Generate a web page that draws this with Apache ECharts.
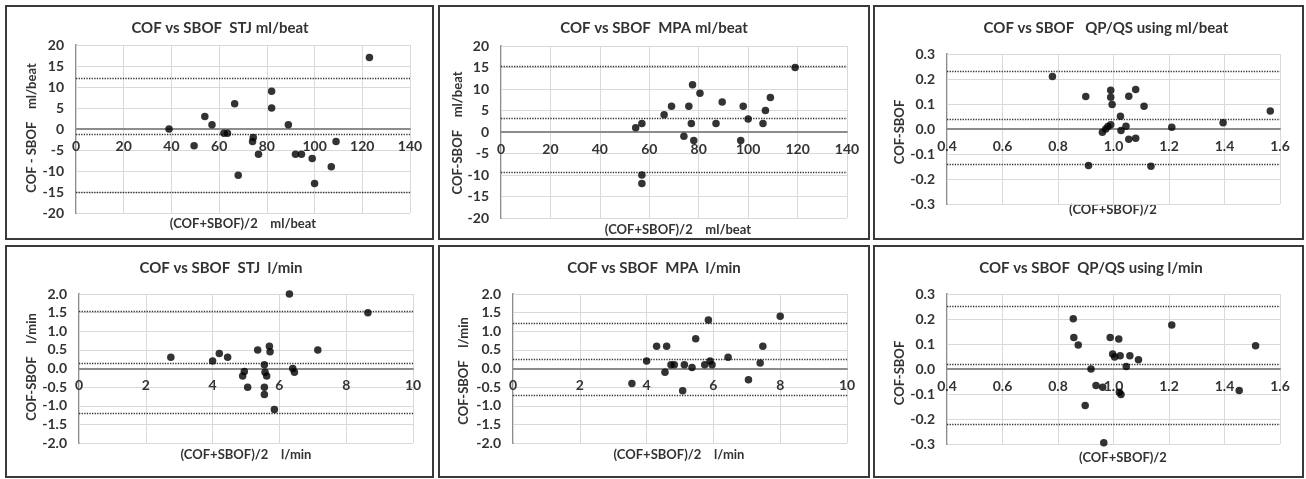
<!DOCTYPE html>
<html>
<head>
<meta charset="utf-8">
<script src="https://cdn.jsdelivr.net/npm/echarts@6/dist/echarts.min.js"></script>
<style>
html,body{margin:0;padding:0;background:#fff;}
#c{width:1306px;height:479px;}
</style>
</head>
<body>
<div id="c"></div>
<script>
// ---------------- DATA ----------------
// Panel 1: COF vs SBOF STJ ml/beat
const stjMlX = [39, 49.5, 54, 57, 62, 63.5, 66.5, 68, 74.3, 74, 76.5, 82, 82, 89, 92, 94.5, 99, 100, 107, 109, 123];
const stjMlY = [0, -4, 3, 1, -1, -1, 6, -11, -2, -3, -6, 9, 5, 1, -6, -6, -7, -13, -9, -3, 17];
const stjMlLimits = [12.2, -1.3, -15.0];

// Panel 2: COF vs SBOF MPA ml/beat
const mpaMlX = [54.5, 57, 57, 57, 66, 69, 74, 76, 77, 77.5, 78, 80.5, 87, 89.5, 97, 98, 100, 106, 107, 109, 119];
const mpaMlY = [1, 2, -10, -12, 4, 6, -1, 6, 2, 11, -2, 9, 2, 7, -2, 6, 3, 2, 5, 8, 15];
const mpaMlLimits = [15.2, 3.1, -9.3];

// Panel 3: COF vs SBOF QP/QS using ml/beat
const qpMlX = [0.78, 0.90, 0.91, 0.96, 0.972, 0.98, 0.99, 0.99, 0.99, 0.995, 1.025, 1.027, 1.045, 1.055, 1.055, 1.08, 1.08, 1.11, 1.135, 1.21, 1.395, 1.565];
const qpMlY = [0.21, 0.13, -0.146, -0.013, 0, 0.01, 0.017, 0.155, 0.127, 0.098, 0.051, -0.006, 0.011, 0.131, -0.041, 0.158, -0.037, 0.091, -0.149, 0.007, 0.025, 0.072];
const qpMlLimits = [0.229, 0.043, -0.143];

// Panel 4: COF vs SBOF STJ l/min
const stjLX = [2.75, 4.0, 4.2, 4.45, 4.9, 4.95, 5.05, 5.35, 5.55, 5.57, 5.62, 5.55, 5.55, 5.7, 5.72, 5.85, 6.3, 6.4, 6.45, 7.15, 8.65];
const stjLY = [0.3, 0.2, 0.4, 0.3, -0.2, -0.08, -0.5, 0.5, 0.1, -0.1, -0.2, -0.5, -0.7, 0.6, 0.45, -1.1, 2.0, 0, -0.1, 0.5, 1.5];
const stjLLimits = [1.53, 0.15, -1.2];

// Panel 5: COF vs SBOF MPA l/min
const mpaLX = [3.56, 4.0, 4.3, 4.6, 4.55, 4.73, 4.83, 5.08, 5.13, 5.36, 5.47, 5.74, 5.85, 5.9, 5.96, 6.44, 7.05, 7.4, 7.48, 8.0];
const mpaLY = [-0.4, 0.2, 0.6, 0.6, -0.1, 0.1, 0.1, -0.6, 0.1, 0.03, 0.8, 0.1, 1.3, 0.2, 0.1, 0.3, -0.3, 0.15, 0.6, 1.4];
const mpaLLimits = [1.22, 0.26, -0.72];

// Panel 6: COF vs SBOF QP/QS using l/min
const qpLX = [0.855, 0.857, 0.873, 0.898, 0.919, 0.937, 0.961, 0.965, 0.988, 0.997, 1.004, 1.019, 1.021, 1.024, 1.027, 1.046, 1.059, 1.09, 1.21, 1.453, 1.512];
const qpLY = [0.201, 0.126, 0.096, -0.146, 0, -0.066, -0.073, -0.295, 0.126, 0.06, 0.048, 0.12, -0.093, 0.053, -0.102, 0.01, 0.053, 0.037, 0.176, -0.086, 0.093];
const qpLLimits = [0.252, 0.017, -0.217];

const titles = [
  'COF vs SBOF  STJ ml/beat',
  'COF vs SBOF  MPA ml/beat',
  'COF vs SBOF   QP/QS using ml/beat',
  'COF vs SBOF  STJ  l/min',
  'COF vs SBOF  MPA  l/min',
  'COF vs SBOF  QP/QS using l/min'
];
const xNames = ['(COF+SBOF)/2    ml/beat', '(COF+SBOF)/2    ml/beat', '(COF+SBOF)/2',
                '(COF+SBOF)/2    l/min', '(COF+SBOF)/2    l/min', '(COF+SBOF)/2'];
const yNames = ['COF - SBOF    ml/beat', 'COF-SBOF    ml/beat', 'COF-SBOF',
                'COF-SBOF    l/min', 'COF-SBOF    l/min', 'COF-SBOF'];

// axis ranges [min, max, interval, decimals]
const xRanges = [[0,140,20,0],[0,140,20,0],[0.4,1.6,0.2,1],[0,10,2,0],[0,10,2,0],[0.4,1.6,0.2,1]];
const yRanges = [[-20,20,5,0],[-20,20,5,0],[-0.3,0.3,0.1,1],[-2,2,0.5,1],[-2,2,0.5,1],[-0.3,0.3,0.1,1]];

const xs = [stjMlX, mpaMlX, qpMlX, stjLX, mpaLX, qpLX];
const ys = [stjMlY, mpaMlY, qpMlY, stjLY, mpaLY, qpLY];
const limits = [stjMlLimits, mpaMlLimits, qpMlLimits, stjLLimits, mpaLLimits, qpLLimits];

// ---------------- LAYOUT ----------------
const FONT = 'Lato';
const TXT = '#333333';
const grids = [
  {left: 76, top: 45, width: 334, height: 168},
  {left: 501, top: 46, width: 346, height: 172},
  {left: 947, top: 54, width: 333, height: 150},
  {left: 79, top: 294, width: 334, height: 149},
  {left: 513, top: 294, width: 334, height: 149},
  {left: 947, top: 294, width: 333, height: 150}
];
const boxes = [
  [6, 6, 427, 233], [439, 6, 430, 233], [874, 6, 429, 233],
  [6, 246, 427, 231], [439, 246, 430, 231], [874, 246, 429, 231]
];
const titlePos = [[220,28],[654,28],[1106,28],[221,268],[654,268],[1091,268]];
const xNamePos = [[243,224],[678,230],[1113,210],[246,455],[679,455],[1123,458]];
const yNamePos = [[32,128],[458,133],[900,132],[32,367],[464,371],[900,373]];

const option = {
  backgroundColor: '#fff',
  animation: false,
  grid: [], xAxis: [], yAxis: [], series: [], graphic: []
};

for (let i = 0; i < 6; i++) {
  option.grid.push(Object.assign({containLabel: false}, grids[i]));
  const xr = xRanges[i], yr = yRanges[i];
  // main x axis: line on zero + vertical grid lines
  option.xAxis.push({
    type: 'value', gridIndex: i, min: xr[0], max: xr[1], interval: xr[2],
    axisLine: {show: true, onZero: true, lineStyle: {color: '#8c8c8c', width: 2}},
    axisTick: {show: false},
    axisLabel: {show: false},
    splitLine: {show: true, lineStyle: {color: '#d9d9d9', width: 1}},
    z: 3
  });
  // label-only x axis placed at the y = 0 level
  const zeroOffset = -grids[i].height * (0 - yr[0]) / (yr[1] - yr[0]);
  option.xAxis.push({
    type: 'value', gridIndex: i, position: 'bottom', offset: zeroOffset,
    min: xr[0], max: xr[1], interval: xr[2],
    axisLine: {show: false}, axisTick: {show: false}, splitLine: {show: false},
    axisLabel: {
      show: true, color: TXT, fontFamily: FONT, fontWeight: 'bold', fontSize: 14, margin: 10,
      showMinLabel: true, showMaxLabel: true,
      formatter: (v) => Number(v).toFixed(xr[3])
    },
    z: 4
  });
  option.yAxis.push({
    type: 'value', gridIndex: i, min: yr[0], max: yr[1], interval: yr[2],
    axisLine: {show: true, onZero: false, lineStyle: {color: '#8c8c8c', width: 2}},
    axisTick: {show: false},
    axisLabel: {
      show: true, color: TXT, fontFamily: FONT, fontWeight: 'bold', fontSize: 14, margin: 12,
      formatter: (v) => Number(v).toFixed(yr[3])
    },
    splitLine: {show: true, lineStyle: {color: '#d9d9d9', width: 1}}
  });
  const data = xs[i].map((x, k) => [x, ys[i][k]]);
  option.series.push({
    type: 'scatter', xAxisIndex: 2 * i, yAxisIndex: i,
    data: data, symbol: 'circle', symbolSize: 7.5,
    itemStyle: {color: '#000'},
    z: 5,
    markLine: {
      silent: true, symbol: 'none', label: {show: false},
      lineStyle: {color: '#333', type: 'dotted', width: 1.3},
      data: limits[i].map(v => ({yAxis: v}))
    }
  });
  // panel border
  option.graphic.push({
    type: 'rect', shape: {x: boxes[i][0], y: boxes[i][1], width: boxes[i][2], height: boxes[i][3]},
    style: {fill: null, stroke: '#3a3a3a', lineWidth: 2}, z: 0, silent: true
  });
  // title
  option.graphic.push({
    type: 'text', x: titlePos[i][0], y: titlePos[i][1],
    style: {text: titles[i], fill: TXT, font: 'bold 15px ' + FONT, textAlign: 'center', textVerticalAlign: 'middle'}
  });
  option.graphic.push({
    type: 'text', x: xNamePos[i][0], y: xNamePos[i][1],
    style: {text: xNames[i], fill: TXT, font: 'bold 13px ' + FONT, textAlign: 'center', textVerticalAlign: 'middle'}
  });
  option.graphic.push({
    type: 'text', x: yNamePos[i][0], y: yNamePos[i][1], rotation: Math.PI / 2,
    style: {text: yNames[i], fill: TXT, font: 'bold 13px ' + FONT, textAlign: 'center', textVerticalAlign: 'middle'}
  });
}

const chart = echarts.init(document.getElementById('c'), null, {renderer: 'canvas'});
chart.setOption(option);
</script>
</body>
</html>
